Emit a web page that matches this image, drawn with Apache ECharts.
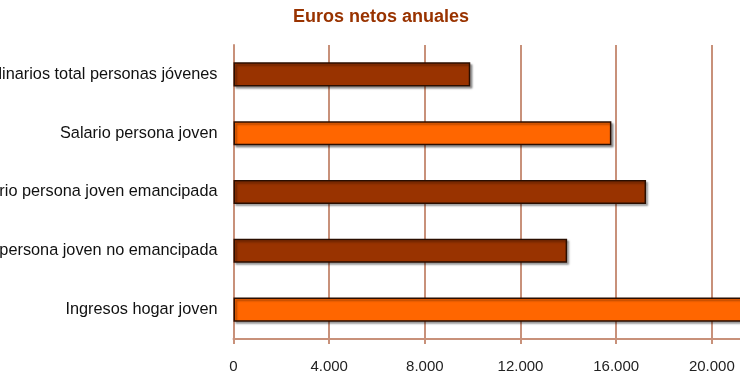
<!DOCTYPE html>
<html>
<head>
<meta charset="utf-8">
<script src="https://cdn.jsdelivr.net/npm/echarts@6/dist/echarts.min.js"></script>
<style>html,body{margin:0;padding:0;background:#fff}#c{width:740px;height:389px}</style>
</head>
<body>
<div id="c"></div>
<script>
var categories = [
  "Ingresos ordinarios total personas jóvenes",
  "Salario persona joven",
  "Salario persona joven emancipada",
  "Salario persona joven no emancipada",
  "Ingresos hogar joven"
];
var values = [9900, 15800, 17250, 13950, 23500];
var barColors = ["#993300", "#FF6600", "#993300", "#993300", "#FF6600"];
var xTicks = [0, 4000, 8000, 12000, 16000, 20000, 24000];
var titleText = "Euros netos anuales";

function fmt(v) {
  return String(v).replace(/\B(?=(\d{3})+(?!\d))/g, ".");
}

var chart = echarts.init(document.getElementById('c'), null, {renderer: 'canvas'});
var lineColor = "#C8917A";
chart.setOption({
  animation: false,
  title: {
    text: titleText,
    left: 376, top: 3, textAlign: 'center',
    textStyle: {color: "#993300", fontSize: 18, fontWeight: 'bold', fontFamily: 'Liberation Sans, Arial, sans-serif'}
  },
  grid: {left: 233.5, top: 45, height: 294, width: 574, containLabel: false, outerBoundsMode: 'none'},
  xAxis: {
    type: 'value', min: xTicks[0], max: xTicks[xTicks.length - 1], interval: 4000,
    axisLine: {show: true, lineStyle: {color: lineColor, width: 2}},
    axisTick: {show: true, length: 5, lineStyle: {color: lineColor, width: 2}},
    splitLine: {show: true, lineStyle: {color: lineColor, width: 2}},
    axisLabel: {margin: 20, color: "#222", fontSize: 15, fontFamily: 'Liberation Sans, Arial, sans-serif', formatter: fmt}
  },
  yAxis: {
    type: 'category', data: categories, inverse: true,
    axisLine: {show: true, lineStyle: {color: lineColor, width: 2}},
    axisTick: {show: false},
    splitLine: {show: false},
    axisLabel: {margin: 16, color: "#111", fontSize: 16.3, fontFamily: 'Liberation Sans, Arial, sans-serif'}
  },
  series: [{
    type: 'bar',
    data: values.map(function (v, i) {
      return {value: v, itemStyle: {color: barColors[i]}};
    }),
    barWidth: '41%',
    itemStyle: {
      borderColor: "#2a0e00", borderWidth: 1.5,
      shadowColor: 'rgba(0,0,0,0.35)', shadowOffsetX: 2, shadowOffsetY: 2, shadowBlur: 2
    }
  }]
});
</script>
</body>
</html>
